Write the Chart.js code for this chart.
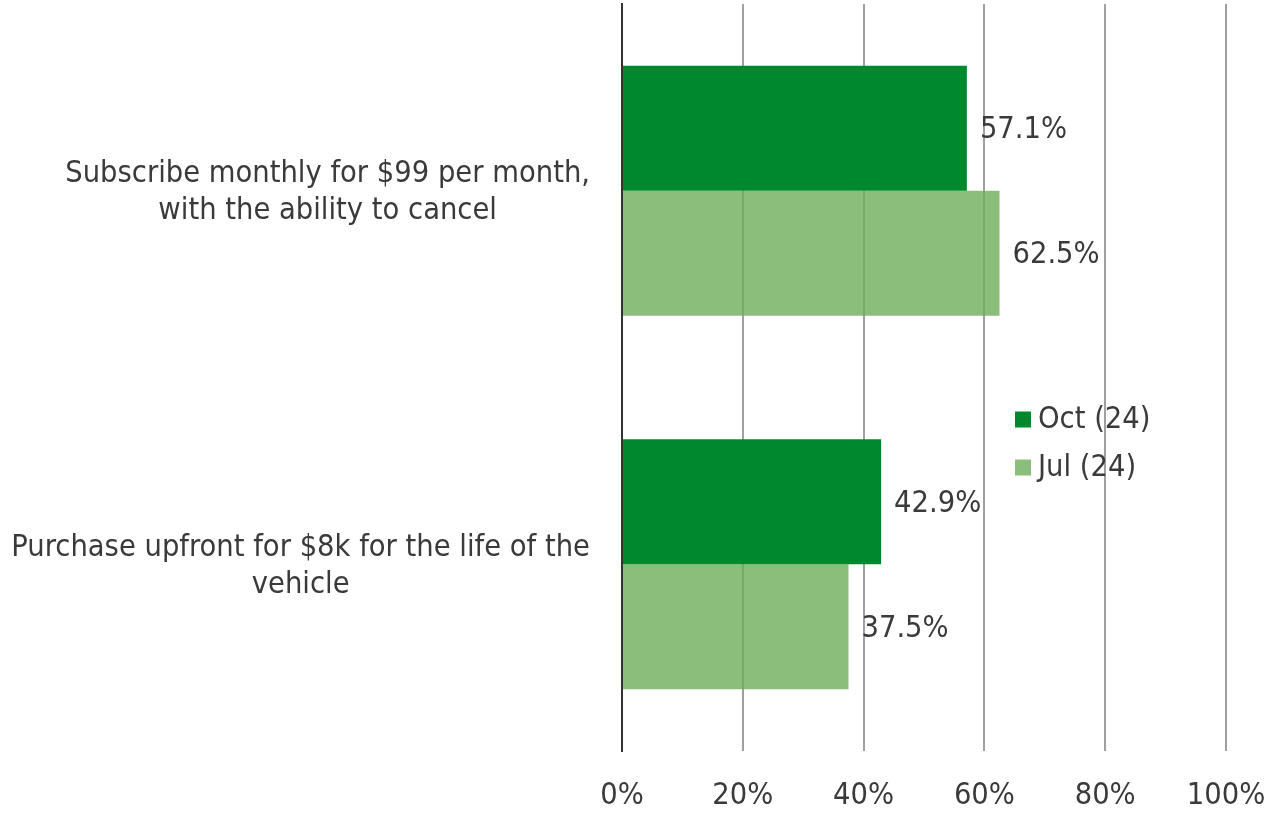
<!DOCTYPE html>
<html lang="en">
<head>
  <meta charset="UTF-8">
  <title>Subscription vs purchase</title>
  <script src="https://cdn.jsdelivr.net/npm/chart.js"></script>
  <style>
    html, body { margin: 0; padding: 0; background: #fff; }
    #wrap { width: 1267px; height: 819px; }
  </style>
</head>
<body>
<div id="wrap"><canvas id="chart"></canvas></div>
<script>
const categories = [
  ['Subscribe monthly for $99 per month,', 'with the ability to cancel'],
  ['Purchase upfront for $8k for the life of the', 'vehicle']
];
const seriesNames = ['Oct (24)', 'Jul (24)'];
const octValues = [57.1, 42.9];
const julValues = [62.5, 37.5];
const tickValues = [0, 20, 40, 60, 80, 100];

const FONT = '"DejaVu Sans Condensed", "DejaVu Sans", sans-serif';
const FSIZE = 30.5;
const TEXT = '#3a3a3a';
const DARK = 'rgb(0,137,44)';
const LIGHT = 'rgba(110,174,89,0.8)';

// category labels: block right-aligned, lines centred in the block
const catLabels = {
  id: 'catLabels',
  afterDraw(chart) {
    const ctx = chart.ctx, ys = chart.scales.y;
    const right = chart.chartArea.left - 32;
    const lh = 37;
    ctx.save();
    ctx.font = FSIZE + 'px ' + FONT;
    ctx.fillStyle = TEXT;
    ctx.textAlign = 'center';
    ctx.textBaseline = 'middle';
    categories.forEach((lines, i) => {
      const w = Math.max(...lines.map(l => ctx.measureText(l).width));
      const cx = right - w / 2;
      const cy = ys.getPixelForTick(i) + 2;
      lines.forEach((l, k) => {
        ctx.fillText(l, cx, cy + (k - (lines.length - 1) / 2) * lh);
      });
    });
    ctx.restore();
  }
};

// value labels to the right of each bar
const valueLabels = {
  id: 'valueLabels',
  afterDatasetsDraw(chart) {
    const ctx = chart.ctx;
    ctx.save();
    ctx.font = FSIZE + 'px ' + FONT;
    ctx.fillStyle = TEXT;
    ctx.textAlign = 'left';
    ctx.textBaseline = 'middle';
    chart.data.datasets.forEach((ds, di) => {
      chart.getDatasetMeta(di).data.forEach((bar, i) => {
        ctx.fillText(ds.data[i].toFixed(1) + '%', bar.x + 13, bar.y + 2);
      });
    });
    ctx.restore();
  }
};

// legend sitting inside the plot, right of centre
const floatLegend = {
  id: 'floatLegend',
  afterDraw(chart) {
    const ctx = chart.ctx, a = chart.chartArea;
    const x = a.right - 211, y0 = (a.top + a.bottom) / 2 + 42;
    ctx.save();
    ctx.font = FSIZE + 'px ' + FONT;
    ctx.textBaseline = 'middle';
    chart.data.datasets.forEach((ds, i) => {
      const y = y0 + i * 48;
      ctx.fillStyle = ds.backgroundColor;
      ctx.fillRect(x, y - 8, 16, 16);
      ctx.fillStyle = TEXT;
      ctx.fillText(ds.label, x + 23, y + 1);
    });
    ctx.restore();
  }
};

new Chart(document.getElementById('chart'), {
  type: 'bar',
  data: {
    labels: categories,
    datasets: [
      { label: seriesNames[0], data: octValues, backgroundColor: DARK },
      { label: seriesNames[1], data: julValues, backgroundColor: LIGHT }
    ]
  },
  options: {
    indexAxis: 'y',
    responsive: true,
    maintainAspectRatio: false,
    animation: false,
    categoryPercentage: 0.67,
    barPercentage: 1,
    layout: { padding: { top: 4, right: 41, left: 0, bottom: 0 } },
    plugins: { legend: { display: false }, tooltip: { enabled: false } },
    scales: {
      x: {
        min: 0, max: 100,
        afterBuildTicks: s => { s.ticks = tickValues.map(v => ({ value: v })); },
        afterFit: s => { s.height = 68; s.paddingLeft = 0; s.paddingRight = 0; },
        grid: { color: '#a0a0a0', lineWidth: 2, drawTicks: false },
        border: { display: false },
        ticks: {
          padding: 27,
          color: TEXT,
          font: { family: FONT, size: FSIZE },
          callback: v => v + '%'
        }
      },
      y: {
        afterFit: s => { s.width = 622; },
        grid: { display: false, drawTicks: false },
        border: { display: true, color: '#333', width: 2 },
        ticks: { display: false }
      }
    }
  },
  plugins: [catLabels, valueLabels, floatLegend]
});
</script>
</body>
</html>
